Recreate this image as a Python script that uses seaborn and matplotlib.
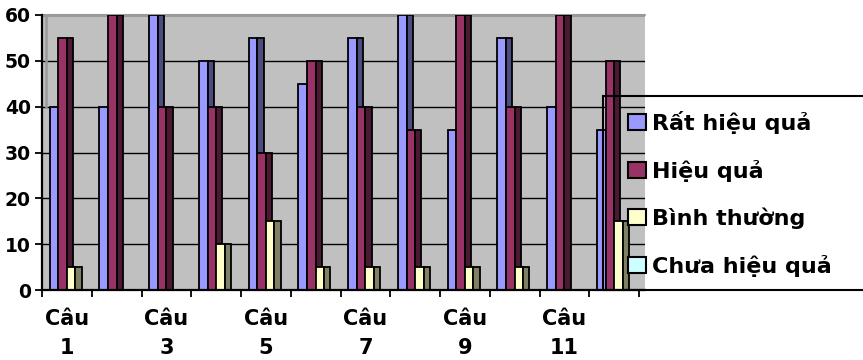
import numpy as np
import pandas as pd
import seaborn as sns
import matplotlib
matplotlib.use("Agg")
import matplotlib.pyplot as plt
from matplotlib.patches import Rectangle, Patch

# --- data -------------------------------------------------------------
cau = [f"Câu {i}" for i in range(1, 13)]
tick_labels = ["Câu\n1", "Câu\n3", "Câu\n5", "Câu\n7", "Câu\n9", "Câu\n11"]
muc = ["Rất hiệu quả", "Hiệu quả", "Bình thường", "Chưa hiệu quả"]
rat_hieu_qua = [40, 40, 60, 50, 55, 45, 55, 60, 35, 55, 40, 35]
hieu_qua = [55, 60, 40, 40, 30, 50, 40, 35, 60, 40, 60, 50]
binh_thuong = [5, 0, 0, 10, 15, 5, 5, 5, 5, 5, 0, 15]
chua_hieu_qua = [0, 0, 0, 0, 0, 0, 0, 0, 0, 0, 0, 0]

front_colors = ["#9999FF", "#993366", "#FFFFCC", "#CCFFFF"]
side_colors = ["#4C4C80", "#4C1933", "#808066", "#668080"]

df = pd.DataFrame({
    "cau": cau * 4,
    "muc": np.repeat(muc, len(cau)),
    "value": rat_hieu_qua + hieu_qua + binh_thuong + chua_hieu_qua,
})

sns.set_theme(style="white")
plt.rcParams["font.family"] = ["DejaVu Sans"]
plt.rcParams["font.weight"] = "bold"
plt.rcParams["text.color"] = "black"
plt.rcParams["xtick.color"] = "black"
plt.rcParams["ytick.color"] = "black"
plt.rcParams["xtick.labelcolor"] = "black"
plt.rcParams["ytick.labelcolor"] = "black"

W, H = 863, 360
fig = plt.figure(figsize=(W / 100, H / 100), dpi=100)
ax = fig.add_axes([42 / W, 70 / H, (645 - 42) / W, 275 / H])
ax.set_facecolor("#C0C0C0")

edge_lw = 1.3
sns.barplot(data=df, x="cau", y="value", hue="muc", order=cau, hue_order=muc,
            palette=front_colors, width=0.69, saturation=1, edgecolor="black",
            linewidth=edge_lw, legend=False, ax=ax)

# darker right-hand faces give the columns their depth
side_w = 0.125
for k, cont in enumerate(ax.containers):
    for bar in cont.patches:
        bar.set_zorder(3 + k)
        h = bar.get_height()
        if h > 0:
            ax.add_patch(Rectangle((bar.get_x() + bar.get_width(), 0), side_w, h,
                                   facecolor=side_colors[k], edgecolor="black",
                                   linewidth=edge_lw, zorder=3 + k))

ax.set_xlim(-0.5, 11.62)
ax.set_ylim(0, 60)
ax.set_yticks(range(0, 61, 10))
ax.yaxis.grid(True, color="black", linewidth=1.0, zorder=1)
ax.set_axisbelow(True)

ax.set_xticks(np.arange(-0.5, 12, 1))
ax.set_xticklabels([])
ax.set_xticks(np.arange(0, 12, 2), minor=True)
ax.set_xticklabels(tick_labels, minor=True, fontsize=15, fontweight="bold",
                   linespacing=1.55, color="black")
ax.tick_params(axis="x", which="major", bottom=True, length=5, width=1.3,
               color="black", direction="out")
ax.tick_params(axis="x", which="minor", bottom=True, length=0, pad=14)
ax.tick_params(axis="y", left=True, length=5, width=1.3, color="black",
               labelsize=13.5, pad=3)
for lab in ax.get_yticklabels():
    lab.set_fontweight("bold")
    lab.set_color("black")
ax.set_xlabel("")
ax.set_ylabel("")

for side in ["top", "right"]:
    ax.spines[side].set_visible(False)
for side in ["left", "bottom"]:
    ax.spines[side].set_color("black")
    ax.spines[side].set_linewidth(1.6)
    ax.spines[side].set_zorder(8)

# back-wall edges
ax.plot([-0.5, 11.62], [60, 60], color="#9A9A9A", linewidth=1.5, zorder=1.5,
        clip_on=False)
ax.plot([-0.42, -0.42], [40, 60], color="#9A9A9A", linewidth=1.8, zorder=1.5)

# legend
handles = [Patch(facecolor=c, edgecolor="black", linewidth=1.5) for c in front_colors]
leg = ax.legend(handles, muc, loc="upper left", bbox_to_anchor=(628 / W, 1 - 111 / H),
                bbox_transform=fig.transFigure, frameon=False, borderpad=0,
                borderaxespad=0, prop={"weight": "bold", "size": 16},
                handlelength=0.8, handleheight=0.75, handletextpad=0.3,
                labelspacing=1.16)
for t in leg.get_texts():
    t.set_color("black")
fig.add_artist(Rectangle((603 / W, 70 / H), (875 - 603) / W, (290 - 96) / H,
                         transform=fig.transFigure, fill=False,
                         edgecolor="black", linewidth=1.5, zorder=20))

fig.savefig("out.png", dpi=100)
